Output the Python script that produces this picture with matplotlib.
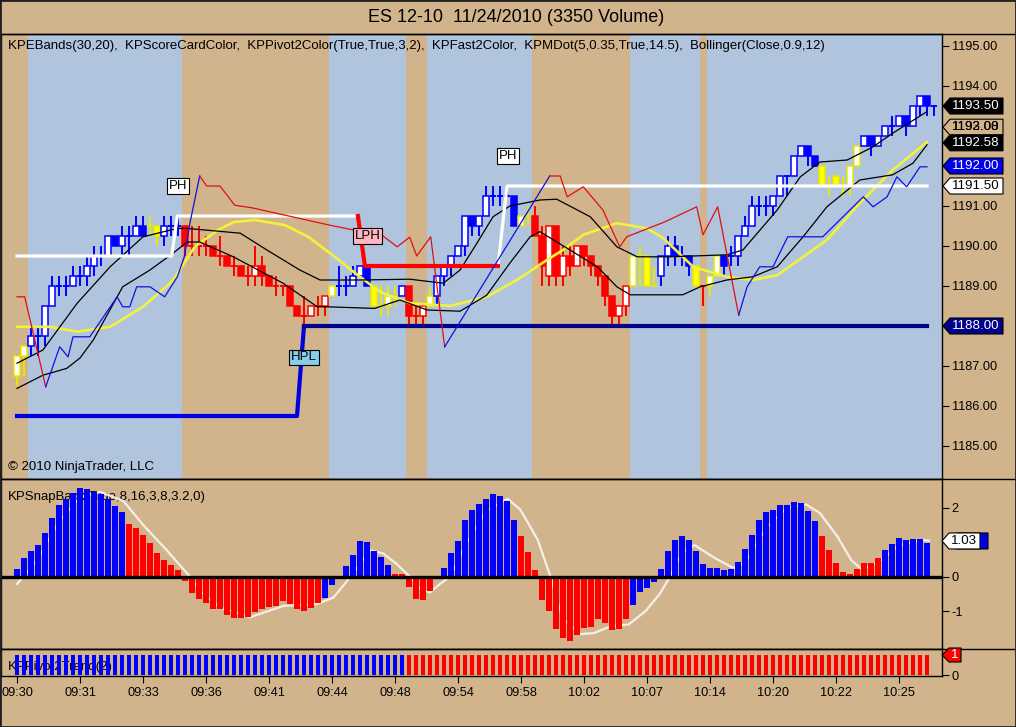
import numpy as np
import matplotlib
matplotlib.use("Agg")
import matplotlib.pyplot as plt
from matplotlib.patches import Polygon, Rectangle
from matplotlib.lines import Line2D
from matplotlib.transforms import IdentityTransform

plt.rcParams['font.family'] = ['Liberation Sans', 'DejaVu Sans']

W, H = 1016, 727
TAN = '#D2B48C'
LSB = '#B0C4DE'
BLUE = '#0000FF'
RED = '#FF0000'
YEL = '#FFFF00'
NAVY = '#00008B'
TICK_FS = 9.2

# ---------------- data ----------------
title = "ES 12-10  11/24/2010 (3350 Volume)"
header = ("KPEBands(30,20),  KPScoreCardColor,  KPPivot2Color(True,True,3,2),  "
          "KPFast2Color,  KPMDot(5,0.35,True,14.5),  Bollinger(Close,0.9,12)")
time_labels = ["09:30", "09:31", "09:33", "09:36", "09:41", "09:44", "09:48", "09:54",
               "09:58", "10:02", "10:07", "10:14", "10:20", "10:22", "10:25"]
tick_step = 9

opens = [1186.75, 1187.25, 1187.5, 1187.75, 1187.75, 1188.5, 1189.0, 1189.0, 1189.0, 1189.25,
         1189.25, 1189.5, 1189.75, 1189.75, 1190.25, 1190.0, 1190.25, 1190.25, 1190.5, 1190.5,
         1190.5, 1190.25, 1190.5, 1190.5, 1190.5, 1190.0, 1190.0, 1190.0, 1190.0, 1189.75,
         1189.75, 1189.5, 1189.5, 1189.25, 1189.25, 1189.5, 1189.25, 1189.0, 1189.0, 1189.0,
         1188.5, 1188.25, 1188.25, 1188.5, 1188.5, 1188.75, 1189.0, 1189.0, 1189.0, 1189.25,
         1189.5, 1189.0, 1188.5, 1188.5, 1188.75, 1188.75, 1189.0, 1188.25, 1188.25, 1188.5,
         1188.75, 1189.25, 1189.5, 1189.75, 1190.0, 1190.75, 1190.5, 1190.75, 1191.25, 1191.25,
         1191.25, 1191.25, 1190.5, 1190.75, 1190.75, 1190.25, 1189.25, 1190.5, 1189.25, 1189.75,
         1189.5, 1190.0, 1189.75, 1189.5, 1189.25, 1188.75, 1188.25, 1188.5, 1189.0, 1189.75,
         1189.75, 1189.0, 1189.25, 1189.75, 1190.0, 1189.75, 1189.75, 1189.5, 1189.0, 1189.0,
         1189.25, 1189.75, 1189.75, 1189.75, 1190.25, 1190.5, 1191.0, 1191.0, 1191.0, 1191.25,
         1191.75, 1191.75, 1192.25, 1192.5, 1192.25, 1192.0, 1191.5, 1191.75, 1191.5, 1191.5,
         1192.0, 1192.5, 1192.75, 1192.5, 1192.75, 1193.0, 1193.0, 1193.25, 1193.0, 1193.5,
         1193.75, 1193.5]
closes = [1187.25, 1187.5, 1187.75, 1187.75, 1188.5, 1189.0, 1189.0, 1189.0, 1189.25, 1189.25,
          1189.5, 1189.75, 1189.75, 1190.25, 1190.0, 1190.25, 1190.25, 1190.5, 1190.25, 1190.5,
          1190.25, 1190.5, 1190.5, 1190.5, 1190.0, 1190.0, 1190.0, 1190.0, 1189.75, 1189.75,
          1189.5, 1189.5, 1189.25, 1189.25, 1189.5, 1189.25, 1189.0, 1189.0, 1189.0, 1188.5,
          1188.25, 1188.25, 1188.5, 1188.5, 1188.75, 1189.0, 1189.0, 1189.0, 1189.25, 1189.5,
          1189.0, 1188.5, 1188.5, 1188.75, 1188.75, 1189.0, 1188.25, 1188.25, 1188.5, 1188.75,
          1189.25, 1189.5, 1189.75, 1190.0, 1190.75, 1190.5, 1190.75, 1191.25, 1191.25, 1191.25,
          1191.25, 1190.5, 1190.75, 1190.75, 1190.25, 1189.5, 1190.5, 1189.25, 1189.75, 1189.5,
          1190.0, 1189.75, 1189.5, 1189.25, 1188.75, 1188.25, 1188.5, 1189.0, 1189.75, 1189.75,
          1189.0, 1189.0, 1189.75, 1190.0, 1189.75, 1189.75, 1189.5, 1189.0, 1189.0, 1189.25,
          1189.75, 1189.5, 1189.75, 1190.25, 1190.5, 1191.0, 1191.0, 1191.0, 1191.25, 1191.75,
          1191.75, 1192.25, 1192.5, 1192.25, 1192.0, 1191.5, 1191.5, 1191.5, 1191.5, 1192.0,
          1192.5, 1192.75, 1192.5, 1192.75, 1193.0, 1193.0, 1193.25, 1193.0, 1193.5, 1193.75,
          1193.5, 1193.5]
highs = [1187.25, 1187.5, 1188.0, 1188.0, 1188.5, 1189.25, 1189.25, 1189.25, 1189.5, 1189.5,
         1189.75, 1190.0, 1190.0, 1190.25, 1190.25, 1190.5, 1190.5, 1190.75, 1190.75, 1190.75,
         1190.5, 1190.75, 1190.75, 1190.75, 1190.5, 1190.5, 1190.5, 1190.25, 1190.0, 1190.25,
         1189.75, 1189.75, 1189.5, 1189.5, 1190.0, 1189.75, 1189.25, 1189.25, 1189.0, 1189.0,
         1188.5, 1188.75, 1188.5, 1188.75, 1188.75, 1189.0, 1189.5, 1189.25, 1189.5, 1189.5,
         1189.5, 1189.0, 1189.0, 1189.0, 1189.0, 1189.0, 1189.0, 1188.5, 1188.5, 1189.0,
         1189.25, 1189.5, 1189.75, 1190.0, 1190.75, 1190.75, 1190.75, 1191.5, 1191.5, 1191.5,
         1191.5, 1191.25, 1190.75, 1191.0, 1191.0, 1190.5, 1190.5, 1190.5, 1190.0, 1190.0,
         1190.0, 1190.0, 1189.75, 1189.5, 1189.25, 1188.75, 1188.5, 1189.0, 1189.75, 1190.0,
         1189.75, 1189.5, 1189.75, 1190.25, 1190.25, 1190.0, 1189.75, 1189.5, 1189.0, 1189.25,
         1189.75, 1189.75, 1190.0, 1190.25, 1190.75, 1191.25, 1191.25, 1191.25, 1191.25, 1191.75,
         1191.75, 1192.25, 1192.5, 1192.5, 1192.25, 1192.0, 1191.75, 1191.75, 1191.75, 1192.0,
         1192.5, 1192.75, 1192.75, 1192.75, 1193.0, 1193.25, 1193.25, 1193.25, 1193.5, 1193.75,
         1193.75, 1193.5]
lows = [1186.5, 1186.75, 1187.25, 1187.25, 1187.5, 1188.5, 1188.75, 1188.75, 1189.0, 1189.0,
        1189.0, 1189.25, 1189.5, 1189.75, 1190.0, 1189.75, 1189.75, 1190.25, 1190.25, 1190.25,
        1190.0, 1190.0, 1190.25, 1190.25, 1189.75, 1189.75, 1189.75, 1189.75, 1189.75, 1189.5,
        1189.5, 1189.25, 1189.25, 1189.0, 1189.0, 1189.0, 1189.0, 1188.75, 1188.75, 1188.5,
        1188.25, 1188.0, 1188.25, 1188.25, 1188.25, 1188.75, 1188.75, 1188.75, 1189.0, 1189.25,
        1189.0, 1188.5, 1188.25, 1188.25, 1188.5, 1188.75, 1188.0, 1188.0, 1188.0, 1188.5,
        1188.5, 1189.0, 1189.25, 1189.75, 1189.75, 1190.25, 1190.25, 1190.75, 1191.0, 1191.0,
        1191.25, 1190.5, 1190.5, 1190.5, 1190.25, 1189.0, 1189.0, 1189.0, 1189.0, 1189.25,
        1189.5, 1189.5, 1189.25, 1189.0, 1188.5, 1188.0, 1188.0, 1188.25, 1189.0, 1189.0,
        1189.0, 1189.0, 1189.0, 1189.5, 1189.5, 1189.5, 1189.25, 1189.0, 1188.5, 1188.75,
        1189.25, 1189.25, 1189.5, 1189.5, 1190.25, 1190.5, 1190.75, 1190.75, 1190.75, 1191.25,
        1191.25, 1191.75, 1192.25, 1192.0, 1192.0, 1191.5, 1191.25, 1191.5, 1191.25, 1191.25,
        1192.0, 1192.5, 1192.25, 1192.5, 1192.75, 1192.75, 1193.0, 1192.75, 1193.0, 1193.25,
        1193.25, 1193.25]
bar_styles = list("yyWWWWWWWWWWWWBWWWByYWWW" + "RwwwRwRwRwwRRwwRRwwww" + "yWWWWBYyyyW"
                  + "RwwyWWWWWBWWWWWByy" + "RRwRwRwRRRRRww"
                  + "yyYyWWBWBYwyyB" + "W" * 11 + "BBYyYyyyWBWWWWBWWBW")

# session shading: bar ranges on tan background (rest light steel blue)
tan_ranges = [(-3, 1), (24, 44), (56, 58), (74, 87), (98, 98)]

yellow_k = [0, 4.7, 8.6, 13.3, 18, 21.9, 22.6, 25.4, 28.7, 31, 34, 38.3, 41.6, 45.4, 48.3,
            51.9, 56.1, 61.9, 67.1, 71.4, 75.7, 78, 80.9, 85.7, 90, 92.3, 96.6, 101.4, 105.1,
            108.6, 115.7, 120.4, 125.1, 130]
yellow_v = [1187.98, 1187.98, 1187.86, 1187.98, 1188.48, 1189.07, 1189.23, 1189.98, 1190.4,
            1190.6, 1190.65, 1190.52, 1190.23, 1189.73, 1189.32, 1188.85, 1188.57, 1188.5,
            1188.73, 1189.15, 1189.65, 1189.9, 1190.28, 1190.57, 1190.44, 1190.2, 1189.48,
            1189.23, 1189.15, 1189.27, 1190.15, 1191.07, 1191.9, 1192.6]

blackA_k = [0, 3.7, 8.6, 13.3, 18, 22.9, 24.3, 31.9, 35.7, 40.4, 43.3, 49, 56.1, 60.9, 63.3,
            65.7, 68, 70.4, 74.7, 77.1, 81.9, 85.7, 88.6, 93.3, 101.4, 103.7, 108.6, 111.9,
            114.7, 118.6, 122.3, 125.1, 130]
blackA_v = [1187.07, 1187.4, 1188.57, 1189.48, 1190.23, 1190.44, 1190.44, 1190.32, 1189.9,
            1189.4, 1189.15, 1189.15, 1189.17, 1189.07, 1189.4, 1190.07, 1190.73, 1191.0,
            1191.15, 1191.17, 1190.73, 1189.98, 1189.73, 1189.73, 1189.78, 1189.9, 1190.9,
            1191.73, 1192.1, 1192.15, 1192.48, 1192.82, 1193.36]

blackB_k = [0, 3.7, 7.1, 9, 10.9, 15.1, 19, 22.3, 24.3, 26.1, 30.9, 38, 42.9, 44.4, 51.1,
            54.7, 58.6, 63.3, 67.1, 70.4, 73.3, 74.7, 79, 82.9, 85.7, 87.6, 95.1, 97.6, 101.4,
            105.1, 108.6, 112.3, 115.7, 120.4, 125.1, 128, 130]
blackB_v = [1186.44, 1186.77, 1186.94, 1187.2, 1187.65, 1188.98, 1189.4, 1189.82, 1190.1,
            1190.1, 1189.73, 1189.07, 1188.48, 1188.48, 1188.44, 1188.65, 1188.4, 1188.37,
            1188.77, 1189.57, 1190.23, 1190.36, 1189.9, 1189.48, 1188.98, 1188.78, 1188.78,
            1188.98, 1189.15, 1189.23, 1189.48, 1190.23, 1190.98, 1191.65, 1191.78, 1192.07,
            1192.53]

# KPMDot stop line, alternating red (short) and blue (long) segments
red1_k = [0, 1.1, 4.1]
red1_v = [1188.73, 1188.73, 1186.48]
blue1_k = [4.1, 6.1, 7.3, 8.0, 10.4, 14.3, 15.1, 16.1, 17.1, 19, 21.1, 22.9, 23.9, 24.7, 26.1]
blue1_v = [1186.48, 1187.48, 1187.23, 1187.73, 1187.73, 1188.73, 1188.48, 1188.48, 1188.98,
           1188.98, 1188.73, 1189.23, 1189.73, 1190.57, 1191.75]
red2_k = [26.1, 27.1, 29, 31.1, 33.7, 44.7, 52.3, 54.3, 56.1, 57.1, 59.1, 61.1]
red2_v = [1191.75, 1191.5, 1191.5, 1191.02, 1190.95, 1190.52, 1190.25, 1189.98, 1190.22,
          1189.75, 1190.23, 1187.48]
blue2_k = [61.1, 76.1]
blue2_v = [1187.48, 1191.75]
red3_k = [76.1, 77.6, 78.6, 80.9, 83.7, 86.1, 87.1, 92.5, 97.1, 98.0, 100.1, 103.1]
red3_v = [1191.75, 1191.75, 1191.23, 1191.48, 1190.9, 1189.98, 1190.23, 1190.6, 1190.98,
          1190.28, 1190.98, 1188.27]
blue3_k = [103.1, 104.3, 106.1, 108, 110.1, 115.1, 120.9, 122.3, 124.3, 125.7, 127.1, 129, 130]
blue3_v = [1188.27, 1188.98, 1189.48, 1189.48, 1190.23, 1190.23, 1191.23, 1190.98, 1191.23,
           1191.73, 1191.48, 1191.98, 1191.98]

# pivot lines
white1_k = [0, 22.1, 22.9, 48.7]
white1_v = [1189.75, 1189.75, 1190.75, 1190.75]
lph_k = [48.7, 49.7, 68.7]
lph_v = [1190.75, 1189.5, 1189.5]
white2_k = [68.7, 70.0, 130]
white2_v = [1189.5, 1191.5, 1191.5]
hpl1_k = [0, 40, 41]
hpl1_v = [1185.75, 1185.75, 1188.0]
hpl2_k = [41, 130]
hpl2_v = [1188.0, 1188.0]

label_text = ["PH", "PH", "LPH", "HPL"]
label_k = [23, 70.1, 50.1, 41]
label_v = [1191.5, 1192.25, 1190.25, 1187.22]
label_fc = ["white", "white", "#FFB6C1", "#87CEEB"]

main_ticks = [1185, 1186, 1187, 1188, 1189, 1190, 1191, 1192, 1193, 1194, 1195]
main_hidden = [1188, 1192, 1193]          # tick labels covered by value flags
flag_values = [1193.50, 1192.97, 1192.58, 1192.00, 1191.50, 1188.00]
flag_texts = ["1193.50", "1193.00", "1192.58", "1192.00", "1191.50", "1188.00"]
flag_fc = ["black", TAN, "black", "#0000E6", "white", NAVY]
flag_tc = ["white", "black", "white", "white", "black", "white"]

# KPSnapBack histogram
snap = [0.23, 0.55, 0.74, 0.91, 1.27, 1.70, 2.06, 2.24, 2.43, 2.56, 2.53, 2.46, 2.38, 2.25, 2.04, 1.86,
        1.53, 1.40, 1.21, 0.98, 0.69, 0.47, 0.32, 0.18, -0.14, -0.49, -0.64, -0.78, -0.93, -0.93,
        -1.12, -1.20, -1.20, -1.17, -1.02, -0.95, -0.88, -0.85, -0.71, -0.80, -0.93, -1.00, -0.90, -0.77,
        -0.61, -0.24, -0.02, 0.29, 0.62, 1.03, 1.01, 0.74, 0.57, 0.32,
        0.06, 0.06, -0.31, -0.64, -0.67, -0.41,
        -0.07, 0.25, 0.67, 1.03, 1.65, 1.94, 2.09, 2.25, 2.38, 2.33, 2.19, 1.65,
        1.18, 0.72, 0.18, -0.69, -1.00, -1.52, -1.78, -1.88, -1.69, -1.49, -1.47, -1.23, -1.34, -1.54,
        -1.52, -1.23,
        -0.82, -0.46, -0.34, -0.17, 0.22, 0.74, 1.06, 1.18, 1.06, 0.74, 0.35, 0.25, 0.25, 0.20, 0.22,
        0.42, 0.79, 1.21, 1.65, 1.86, 1.92, 2.06, 2.06, 2.16, 2.12, 1.89, 1.60,
        1.16, 0.76, 0.39, 0.12, 0.06, 0.22, 0.39, 0.39, 0.54,
        0.76, 0.94, 1.11, 1.06, 1.09, 1.09, 0.98]
snap_runs = [("B", 16), ("R", 28), ("B", 10), ("R", 6), ("B", 12), ("R", 16), ("B", 27),
             ("R", 9), ("B", 7)]
signal_k = [0, 0.9, 3, 6, 9, 11.9, 15.2, 18, 21.4, 24.7, 26.1, 29, 33.3, 38.1, 42.8, 45.2, 47.6,
            50.4, 52.3, 54.2, 56.1, 57.6, 59, 60.4, 61.9, 64, 67, 70.1, 71.9, 74.4, 76.2, 77.9,
            80.4, 82.4, 84.9, 87.4, 89.8, 91.8, 93.3, 95, 96.8, 99.8, 102.3, 104, 107, 110, 112.7,
            114.7, 117.2, 119.2, 120.7, 123, 126, 129.3, 130.3]
signal_v = [-0.22, 0.0, 0.5, 1.6, 2.3, 2.45, 2.19, 1.5, 0.76, 0.0, -0.41, -0.9, -1.18, -0.85,
            -0.80, -0.61, -0.02, 0.76, 0.67, 0.37, 0.0, -0.36, -0.46, -0.22, 0.0, 0.9, 1.9, 2.25,
            1.94, 1.06, 0.0, -1.2, -1.67, -1.64, -1.44, -1.39, -1.0, -0.51, 0.0, 0.7, 0.91, 0.52,
            0.25, 0.4, 1.4, 2.0, 2.09, 1.84, 1.16, 0.47, 0.2, 0.4, 0.9, 1.06, 1.04]
snap_ticks = [2, 1, 0, -1]
snap_hidden = [1]
snap_last = 1.03

# KPPivot2Trend
trend_runs = [("B", 56), ("R", 75)]

# ---------------- figure ----------------
fig = plt.figure(figsize=(W / 100, H / 100), dpi=100, facecolor=TAN)


def px_axes(x0, y0, x1, y1):
    return fig.add_axes([x0 / W, 1 - y1 / H, (x1 - x0) / W, (y1 - y0) / H])


ax = px_axes(1, 34, 942, 479)
ax2 = px_axes(1, 479, 942, 649)
ax3 = px_axes(1, 649, 942, 676)

XL = (-16 / 7, 132 + 1 / 7)
for a in (ax, ax2, ax3):
    a.set_xlim(*XL)
    for s in a.spines.values():
        s.set_color("black")
        s.set_linewidth(1)
    a.yaxis.tick_right()
    a.tick_params(axis="y", direction="out", length=5, pad=2, labelsize=TICK_FS,
                  colors="black")
    a.tick_params(axis="x", bottom=False, labelbottom=False)
ax2.set_facecolor(TAN)
ax3.set_facecolor(TAN)

# main panel
ax.set_ylim(1195 - (479 - 46) / 40, 1195 + (46 - 34) / 40)
ax.set_facecolor(LSB)
for a0, a1 in tan_ranges:
    ax.axvspan(a0 - 0.5, a1 + 0.5, color=TAN, lw=0, zorder=0)

face = {"W": "white", "B": BLUE, "R": RED, "w": "white", "Y": YEL, "y": "white"}
edge = {"W": BLUE, "B": BLUE, "R": RED, "w": RED, "Y": "#E8E800", "y": "#E8E800"}
bw = 0.86
xs = np.arange(len(opens))
o = np.array(opens); c = np.array(closes)
fcs = [face[s] for s in bar_styles]
ecs = [edge[s] for s in bar_styles]
ax.vlines(xs, lows, highs, colors=ecs, lw=1.4, zorder=3)
body = np.abs(c - o)
mask = body > 0
ax.bar(xs[mask], body[mask], bottom=np.minimum(o, c)[mask], width=bw,
       color=[fcs[i] for i in xs[mask]], edgecolor=[ecs[i] for i in xs[mask]], lw=1.1, zorder=4)
dmask = ~mask
ax.hlines(c[dmask], xs[dmask] - bw / 2, xs[dmask] + bw / 2,
          colors=[ecs[i] for i in xs[dmask]], lw=1.4, zorder=4)

ax.plot(yellow_k, yellow_v, color="#F2F23A", lw=1.9, zorder=5, solid_capstyle="round")
ax.plot(blackA_k, blackA_v, color="black", lw=0.9, zorder=5)
ax.plot(blackB_k, blackB_v, color="black", lw=0.9, zorder=5)
for kk, vv, col in [(red1_k, red1_v, "#E01010"), (blue1_k, blue1_v, "#1010E0"),
                    (red2_k, red2_v, "#E01010"), (blue2_k, blue2_v, "#1010E0"),
                    (red3_k, red3_v, "#E01010"), (blue3_k, blue3_v, "#1010E0")]:
    ax.plot(kk, vv, color=col, lw=0.9, zorder=6)
ax.plot(white1_k, white1_v, color="white", lw=2.3, zorder=5)
ax.plot(white2_k, white2_v, color="white", lw=2.3, zorder=5)
ax.plot(lph_k, lph_v, color=RED, lw=3.0, zorder=5)
ax.plot(hpl1_k, hpl1_v, color="#0000E0", lw=3.0, zorder=5)
ax.plot(hpl2_k, hpl2_v, color=NAVY, lw=3.0, zorder=5)

for t, kk, vv, fc in zip(label_text, label_k, label_v, label_fc):
    ax.text(kk, vv, t, ha="center", va="center", fontsize=9.5, color="black", zorder=8,
            bbox=dict(boxstyle="square,pad=0.12", fc=fc, ec="black", lw=0.8))

ax.set_yticks(main_ticks)
ax.set_yticklabels(["" if v in main_hidden else f"{v:.2f}" for v in main_ticks])

# snapback panel
ax2.set_ylim(-(649 - 576.5) / 34.5, (576.5 - 479) / 34.5)
cols = []
for col, n in snap_runs:
    cols += [BLUE if col == "B" else RED] * n
ax2.bar(np.arange(len(snap)), snap, width=0.78, color=cols, lw=0, zorder=3)
ax2.plot(signal_k, signal_v, color="#F4F0E8", lw=1.6, zorder=2)
ax2.axhline(0, color="black", lw=2.4, zorder=4)
ax2.set_yticks(snap_ticks)
ax2.set_yticklabels(["" if v in snap_hidden else f"{v:g}" for v in snap_ticks])
ax2.text(7 / 941, 1 - (497 - 479) / 170, "KPSnapBack(True,8,16,3,8,3.2,0)", transform=ax2.transAxes,
         fontsize=9.5, va="center", ha="left", zorder=1)

# trend panel
ax3.set_ylim(-0.05, 1.3)
tcols = []
for col, n in trend_runs:
    tcols += [BLUE if col == "B" else RED] * n
ax3.bar(np.arange(len(tcols)), [1] * len(tcols), width=0.58, color=tcols, lw=0, zorder=3)
ax3.set_yticks([0])
ax3.set_yticklabels(["0"])
ax3.text(7 / 941, 0.33, "KPPivot2Trend(2)", transform=ax3.transAxes,
         fontsize=9.5, va="center", ha="left", zorder=1)
ticks = [i * tick_step for i in range(len(time_labels))]
ax3.set_xticks(ticks)
ax3.set_xticklabels(time_labels)
ax3.tick_params(axis="x", bottom=True, labelbottom=True, direction="out", length=5, pad=3,
                labelsize=TICK_FS)

# texts
fig.text(0.508, 1 - 17 / H, title, ha="center", va="center", fontsize=13)
fig.text(8 / W, 1 - 46 / H, header, ha="left", va="center", fontsize=9.5)
fig.text(8 / W, 1 - 467 / H, "\u00a9 2010 NinjaTrader, LLC", ha="left", va="center", fontsize=9.5)


# value flags on the right axis
def flag(axis, value, text, fc, tc, x0=943, w=60, h=16, ec="black", fs=9.6):
    yd = axis.transData.transform((0, value))[1]
    pts = [(x0, yd), (x0 + 7, yd + h / 2), (x0 + w, yd + h / 2), (x0 + w, yd - h / 2),
           (x0 + 7, yd - h / 2)]
    fig.add_artist(Polygon(pts, closed=True, transform=IdentityTransform(), fc=fc, ec=ec,
                           lw=0.8, zorder=6))
    if text:
        fig.text((x0 + 9) / W, yd / H, text, ha="left", va="center", color=tc, fontsize=fs,
                 zorder=7)


for v, t, fc, tc in zip(flag_values, flag_texts, flag_fc, flag_tc):
    flag(ax, v, t, fc, tc)
# overlapped second reading inside the tan flag
yd = ax.transData.transform((0, flag_values[1]))[1]
fig.text(952 / W, yd / H, "1192.08", ha="left", va="center", color="black",
         fontsize=9.6, zorder=7)

flag(ax2, snap_last, "", "#0000E6", "white", x0=950, w=38)
flag(ax2, snap_last, f"{snap_last:.2f}", "white", "black", x0=942, w=38)
flag(ax3, 1, "1", RED, "white", x0=942, w=19, h=14)

# separator lines and frame
for yy in (34, 479, 649):
    fig.add_artist(Line2D([0, 1], [1 - yy / H, 1 - yy / H], transform=fig.transFigure,
                          color="black", lw=1, zorder=1))
fig.add_artist(Rectangle((0, 0), 1, 1, transform=fig.transFigure, fill=False, ec="#202020",
                         lw=2, zorder=9))

fig.savefig("out.png", dpi=100, facecolor=TAN)
